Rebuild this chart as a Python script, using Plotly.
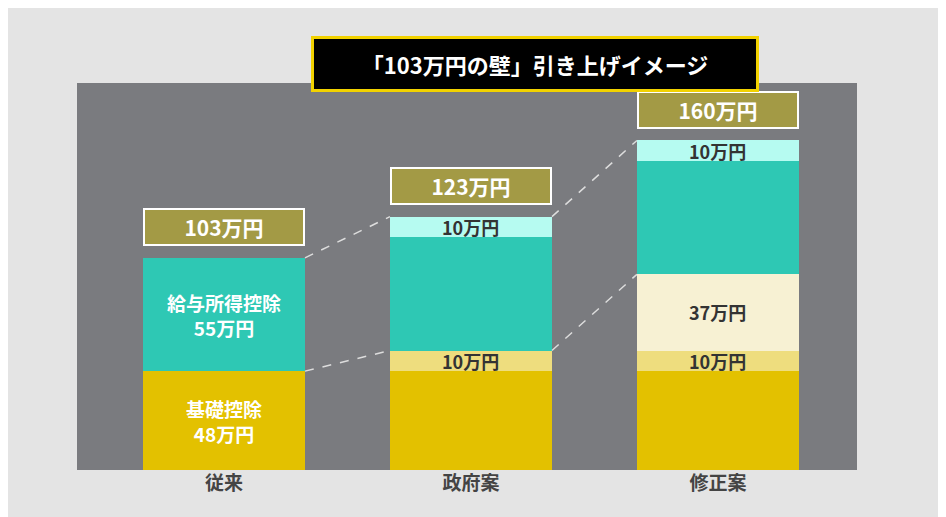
import plotly.graph_objects as go

cats = ["従来", "政府案", "修正案"]
kiso = [48, 48, 48]
gov_add = [0, 10, 10]
mod_add = [0, 0, 37]
kyuyo = [55, 55, 55]
top_add = [0, 10, 10]
totals = [103, 123, 160]
total_labels = ["103万円", "123万円", "160万円"]

F = "Noto Sans CJK JP"
W = 0.656
fig = go.Figure()
series = [(kiso, "#e3c100"), (gov_add, "#eedd7e"), (mod_add, "#f7f1d3"),
          (kyuyo, "#2ec8b4"), (top_add, "#b6fbf1")]
xs = [0, 1, 2]
for vals, col in series:
    fig.add_bar(x=xs, y=vals, marker_color=col, marker_line_width=0, width=W,
                hoverinfo="skip")

ann = []
def seg_text(x, y, t, color="#333333", size=18):
    ann.append(dict(x=x, y=y, text=t, showarrow=False, xref="x", yref="y",
                    font=dict(family=F, size=size, color=color)))

seg_text(0, kiso[0]/2, "<b>基礎控除<br>48万円</b>", "white", 19)
seg_text(0, kiso[0] + kyuyo[0]/2, "<b>給与所得控除<br>55万円</b>", "white", 19)
for i in (1, 2):
    seg_text(i, kiso[i] + gov_add[i]/2, "<b>10万円</b>")
    seg_text(i, totals[i] - top_add[i]/2, "<b>10万円</b>")
seg_text(2, kiso[2] + gov_add[2] + mod_add[2]/2, "<b>37万円</b>")

for i in range(3):
    ann.append(dict(x=i, y=totals[i] + 15, text="<b>" + total_labels[i] + "</b>",
                    showarrow=False, xref="x", yref="y", width=156, height=32,
                    bgcolor="#a39a45", bordercolor="white", borderwidth=2,
                    font=dict(family=F, size=21, color="white")))

ann.append(dict(x=0.3, y=1.121, xref="paper", yref="paper", showarrow=False,
                text="<b>「103万円の壁」引き上げイメージ</b>", width=440, height=48,
                bgcolor="black", bordercolor="#f2d200", borderwidth=3,
                font=dict(family=F, size=22, color="white")))

shapes = []
h = W/2
lows = [kiso[0], kiso[1] + gov_add[1], kiso[2] + gov_add[2] + mod_add[2]]
for i in range(2):
    shapes.append(dict(type="line", xref="x", yref="y", x0=i+h, x1=i+1-h,
                       y0=totals[i], y1=totals[i+1], line=dict(color="#dddddd", width=1.5, dash="dash")))
    shapes.append(dict(type="line", xref="x", yref="y", x0=i+h, x1=i+1-h,
                       y0=lows[i], y1=lows[i+1], line=dict(color="#dddddd", width=1.5, dash="dash")))

fig.update_layout(
    width=946, height=517, barmode="stack", showlegend=False,
    margin=dict(l=69, r=97, t=75, b=55),
    paper_bgcolor="#e4e4e4", plot_bgcolor="#7a7b7f",
    annotations=ann, shapes=shapes,
    xaxis=dict(range=[-0.595, 2.563], tickvals=xs, ticktext=["<b>%s</b>" % c for c in cats],
               tickfont=dict(family=F, size=19, color="#444444"), showgrid=False,
               zeroline=False, ticks="", ticklen=0),
    yaxis=dict(range=[0, 187.9], visible=False, showgrid=False),
)
fig.write_html("out.html")
